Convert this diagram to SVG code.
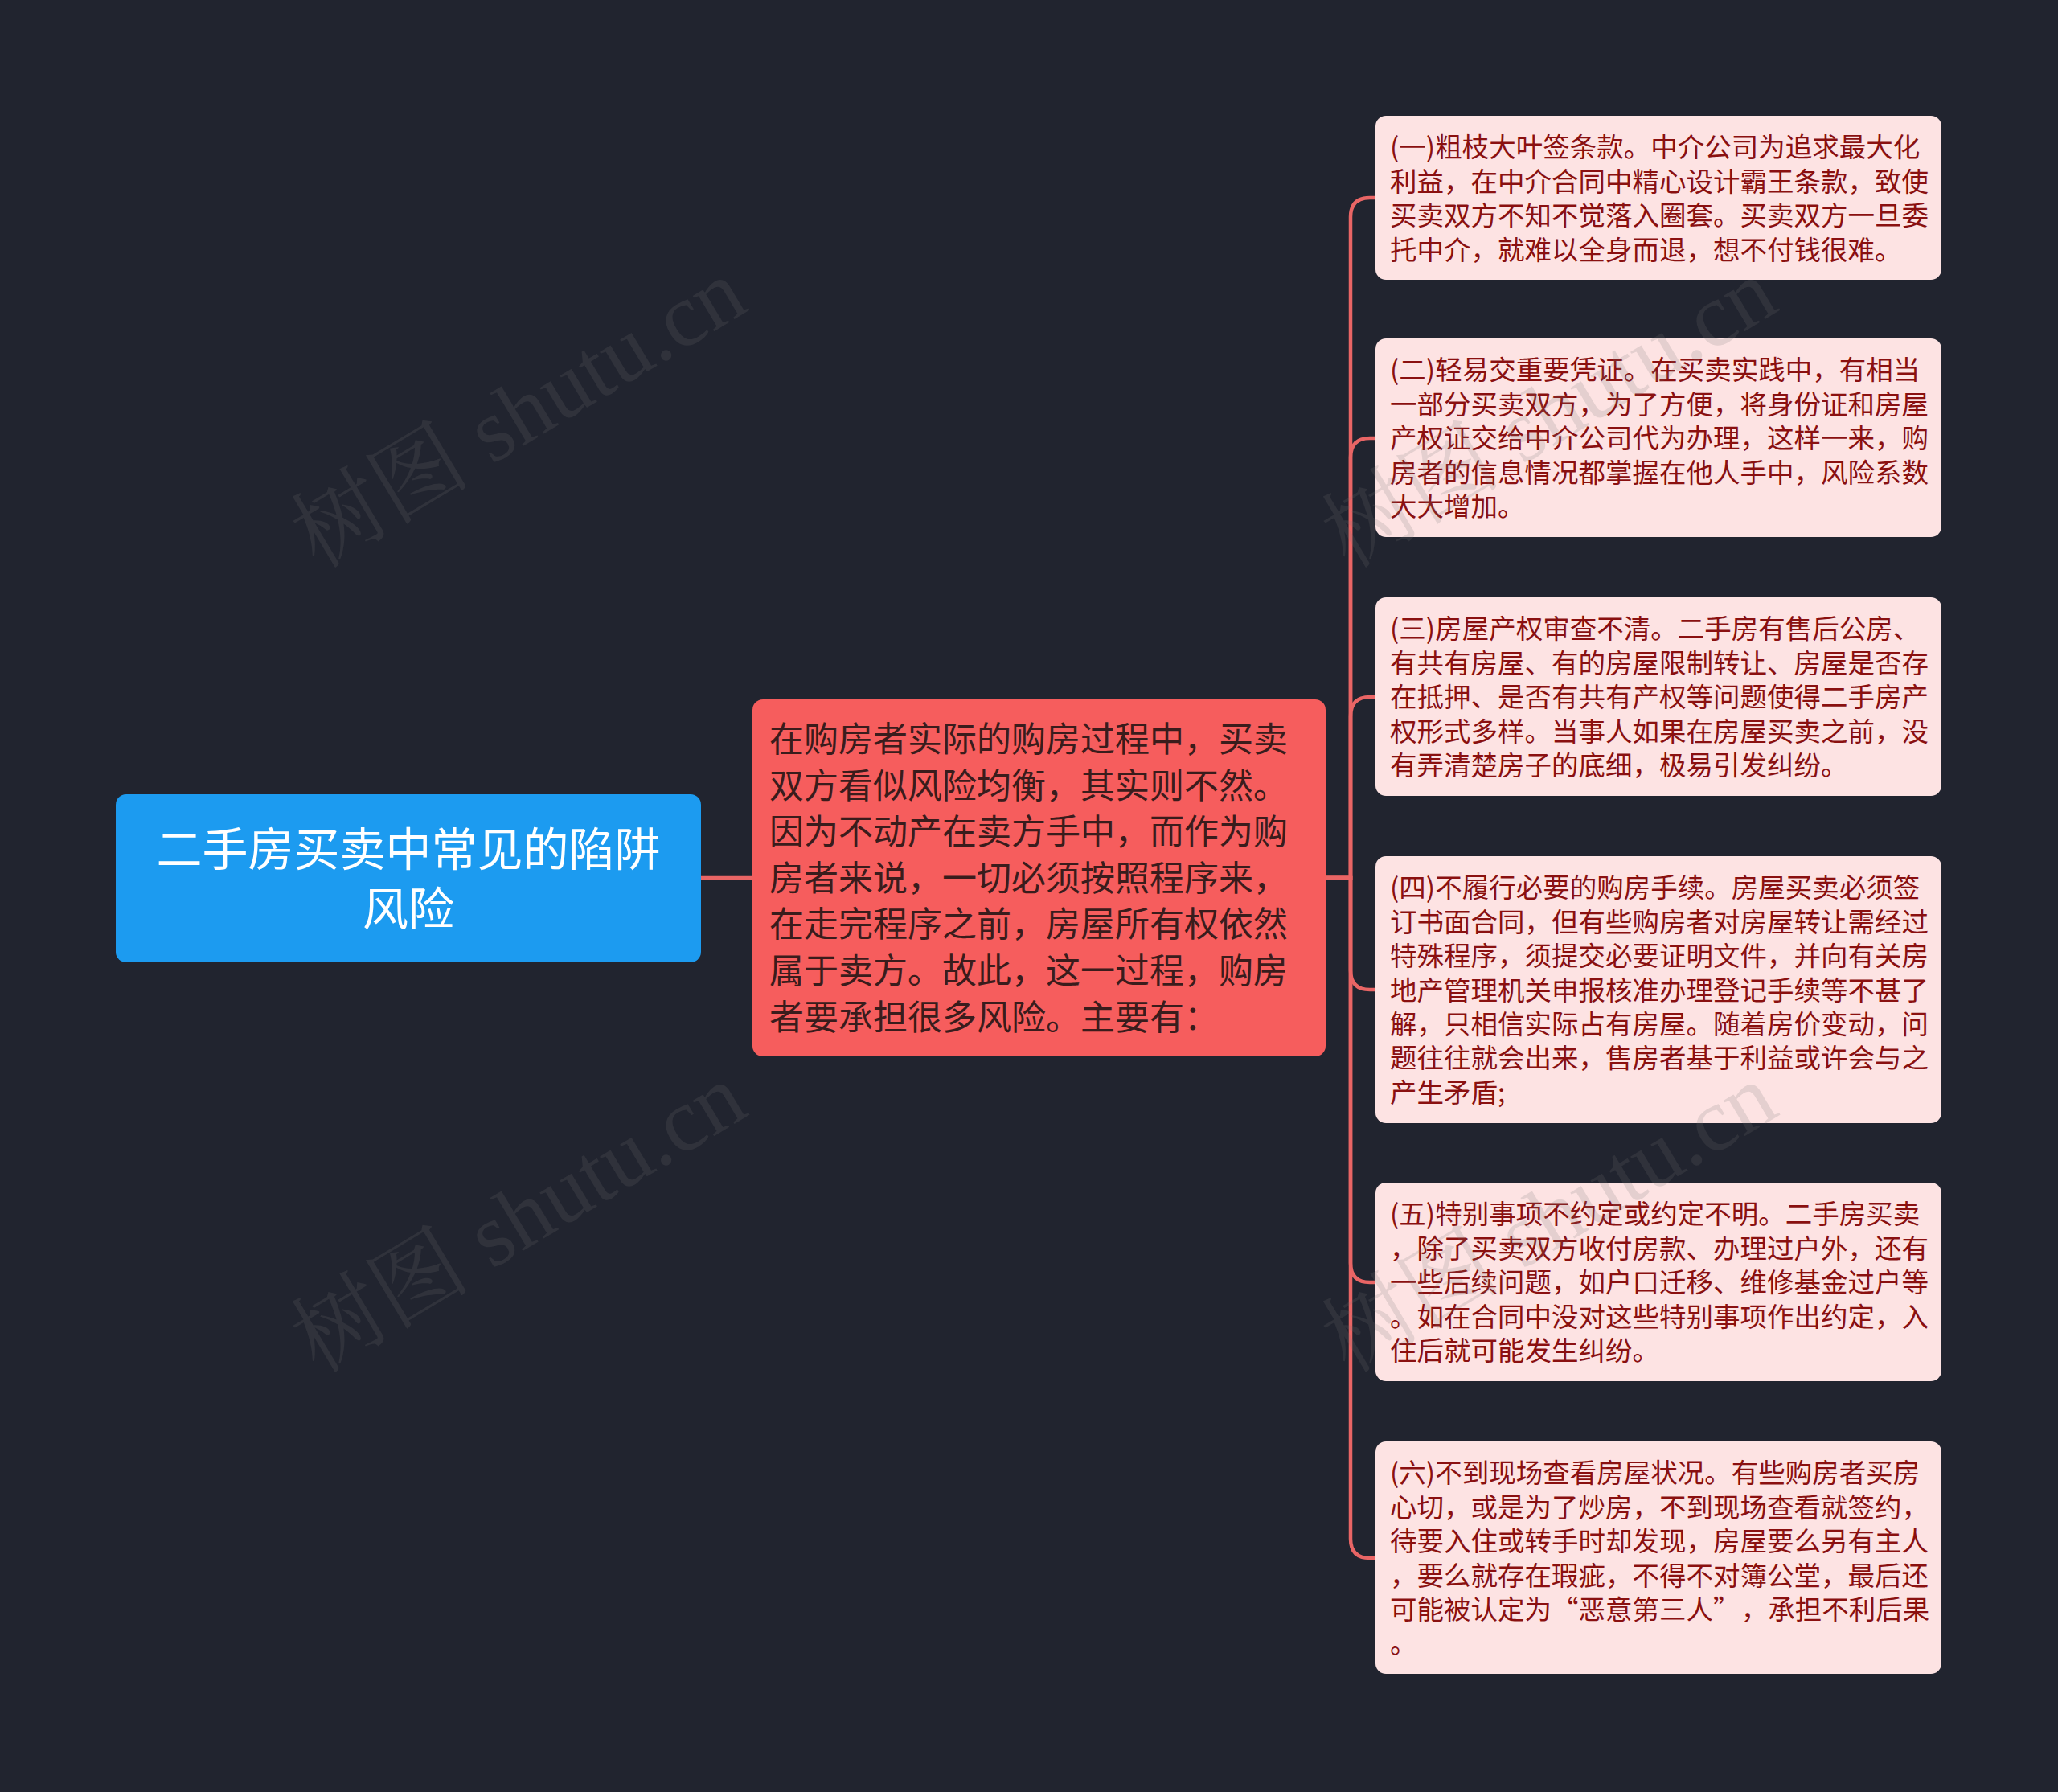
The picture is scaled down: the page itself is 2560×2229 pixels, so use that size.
<svg xmlns="http://www.w3.org/2000/svg" width="2560" height="2229" viewBox="0 0 2560 2229">
<style>
.cjk{font-family:"Noto Sans CJK SC","Noto Sans",sans-serif}
.root-t{font-size:57px;fill:#ffffff;text-anchor:middle}
.mid-t{font-size:43px;fill:#3a1c1c}
.leaf-t{font-size:33.5px;fill:#8a1010}
.leaf{fill:#fde3e3}
.conn{fill:none;stroke:#e96565;stroke-width:4.5}
.wm{font-family:"Liberation Serif","Noto Serif CJK SC","Noto Sans CJK SC",serif;font-size:112px;fill:#777777;fill-opacity:0.18;text-anchor:middle;dominant-baseline:central}
</style>
<rect x="0" y="0" width="2560" height="2229" fill="#21242f"/>
<g id="connectors">
<path class="conn" d="M872,1092 H936"/>
<path class="conn" d="M1649,1092 H1680 V270 Q1680,246 1704,246 H1712"/>
<path class="conn" d="M1649,1092 H1680 V569 Q1680,545 1704,545 H1712"/>
<path class="conn" d="M1649,1092 H1680 V891 Q1680,867 1704,867 H1712"/>
<path class="conn" d="M1649,1092 H1680 V1207 Q1680,1231 1704,1231 H1712"/>
<path class="conn" d="M1649,1092 H1680 V1571 Q1680,1595 1704,1595 H1712"/>
<path class="conn" d="M1649,1092 H1680 V1914 Q1680,1938 1704,1938 H1712"/>
</g>
<g id="root">
<rect x="144" y="988" width="728" height="209" rx="13" fill="#1c9bf0"/>
<text class="cjk root-t" x="508" y="1077">二手房买卖中常见的陷阱</text>
<text class="cjk root-t" x="508" y="1151">风险</text>
</g>
<g id="middle">
<rect x="936" y="870" width="713" height="444" rx="13" fill="#f65d5d"/>
<text class="cjk mid-t" x="957" y="935">在购房者实际的购房过程中，买卖</text>
<text class="cjk mid-t" x="957" y="992.6">双方看似风险均衡，其实则不然。</text>
<text class="cjk mid-t" x="957" y="1050.2">因为不动产在卖方手中，而作为购</text>
<text class="cjk mid-t" x="957" y="1107.8">房者来说，一切必须按照程序来，</text>
<text class="cjk mid-t" x="957" y="1165.4">在走完程序之前，房屋所有权依然</text>
<text class="cjk mid-t" x="957" y="1223">属于卖方。故此，这一过程，购房</text>
<text class="cjk mid-t" x="957" y="1280.6">者要承担很多风险。主要有：</text>
</g>
<g id="leaf1">
<rect class="leaf" x="1711" y="144" width="704" height="204" rx="13"/>
<text class="cjk leaf-t" x="1729" y="195.4">(一)粗枝大叶签条款。中介公司为追求最大化</text>
<text class="cjk leaf-t" x="1729" y="237.8">利益，在中介合同中精心设计霸王条款，致使</text>
<text class="cjk leaf-t" x="1729" y="280.2">买卖双方不知不觉落入圈套。买卖双方一旦委</text>
<text class="cjk leaf-t" x="1729" y="322.6">托中介，就难以全身而退，想不付钱很难。</text>
</g>
<g id="leaf2">
<rect class="leaf" x="1711" y="421" width="704" height="247" rx="13"/>
<text class="cjk leaf-t" x="1729" y="472.4">(二)轻易交重要凭证。在买卖实践中，有相当</text>
<text class="cjk leaf-t" x="1729" y="514.8">一部分买卖双方，为了方便，将身份证和房屋</text>
<text class="cjk leaf-t" x="1729" y="557.2">产权证交给中介公司代为办理，这样一来，购</text>
<text class="cjk leaf-t" x="1729" y="599.6">房者的信息情况都掌握在他人手中，风险系数</text>
<text class="cjk leaf-t" x="1729" y="642">大大增加。</text>
</g>
<g id="leaf3">
<rect class="leaf" x="1711" y="743" width="704" height="247" rx="13"/>
<text class="cjk leaf-t" x="1729" y="794.4">(三)房屋产权审查不清。二手房有售后公房、</text>
<text class="cjk leaf-t" x="1729" y="836.8">有共有房屋、有的房屋限制转让、房屋是否存</text>
<text class="cjk leaf-t" x="1729" y="879.2">在抵押、是否有共有产权等问题使得二手房产</text>
<text class="cjk leaf-t" x="1729" y="921.6">权形式多样。当事人如果在房屋买卖之前，没</text>
<text class="cjk leaf-t" x="1729" y="964">有弄清楚房子的底细，极易引发纠纷。</text>
</g>
<g id="leaf4">
<rect class="leaf" x="1711" y="1065" width="704" height="332" rx="13"/>
<text class="cjk leaf-t" x="1729" y="1116.4">(四)不履行必要的购房手续。房屋买卖必须签</text>
<text class="cjk leaf-t" x="1729" y="1158.8">订书面合同，但有些购房者对房屋转让需经过</text>
<text class="cjk leaf-t" x="1729" y="1201.2">特殊程序，须提交必要证明文件，并向有关房</text>
<text class="cjk leaf-t" x="1729" y="1243.6">地产管理机关申报核准办理登记手续等不甚了</text>
<text class="cjk leaf-t" x="1729" y="1286">解，只相信实际占有房屋。随着房价变动，问</text>
<text class="cjk leaf-t" x="1729" y="1328.4">题往往就会出来，售房者基于利益或许会与之</text>
<text class="cjk leaf-t" x="1729" y="1370.8">产生矛盾;</text>
</g>
<g id="leaf5">
<rect class="leaf" x="1711" y="1471" width="704" height="247" rx="13"/>
<text class="cjk leaf-t" x="1729" y="1522.4">(五)特别事项不约定或约定不明。二手房买卖</text>
<text class="cjk leaf-t" x="1729" y="1564.8">，除了买卖双方收付房款、办理过户外，还有</text>
<text class="cjk leaf-t" x="1729" y="1607.2">一些后续问题，如户口迁移、维修基金过户等</text>
<text class="cjk leaf-t" x="1729" y="1649.6">。如在合同中没对这些特别事项作出约定，入</text>
<text class="cjk leaf-t" x="1729" y="1692">住后就可能发生纠纷。</text>
</g>
<g id="leaf6">
<rect class="leaf" x="1711" y="1793" width="704" height="289" rx="13"/>
<text class="cjk leaf-t" x="1729" y="1844.4">(六)不到现场查看房屋状况。有些购房者买房</text>
<text class="cjk leaf-t" x="1729" y="1886.8">心切，或是为了炒房，不到现场查看就签约，</text>
<text class="cjk leaf-t" x="1729" y="1929.2">待要入住或转手时却发现，房屋要么另有主人</text>
<text class="cjk leaf-t" x="1729" y="1971.6">，要么就存在瑕疵，不得不对簿公堂，最后还</text>
<text class="cjk leaf-t" x="1729" y="2014">可能被认定为“恶意第三人”<tspan dx="18">，承担不利后果</tspan></text>
<text class="cjk leaf-t" x="1729" y="2056.4">。</text>
</g>
<g id="watermarks">
<text class="wm" transform="translate(645,514) rotate(-31)">树图 shutu.cn</text>
<text class="wm" transform="translate(1927,514) rotate(-31)">树图 shutu.cn</text>
<text class="wm" transform="translate(645,1515) rotate(-31)">树图 shutu.cn</text>
<text class="wm" transform="translate(1927,1515) rotate(-31)">树图 shutu.cn</text>
</g>
</svg>
